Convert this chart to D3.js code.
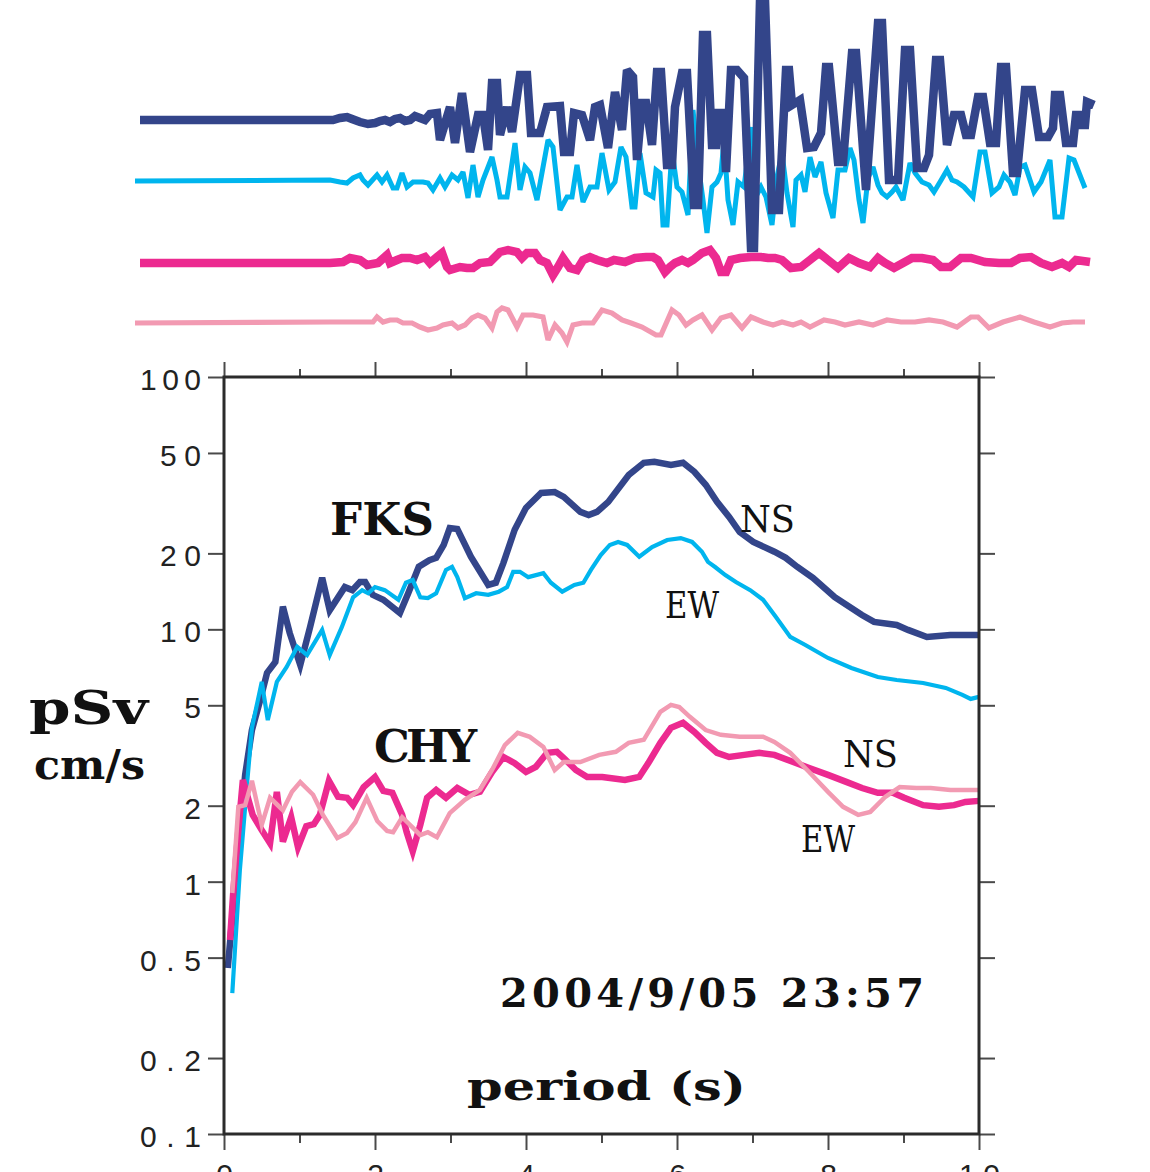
<!DOCTYPE html>
<html>
<head>
<meta charset="utf-8">
<script src="https://d3js.org/d3.v7.min.js"></script>
<style>
body { margin: 0; background: #fff; }
</style>
</head>
<body>
<svg id="mainsvg" width="1150" height="1172"></svg>
<script>
// --- waveforms, [time (s), amplitude] ---
var fksNsWave = [[0.5,0],[19.8,0],[20.5,2],[21.2,3],[21.7,1],[22.5,-2],[23.3,-4],[24.0,-3],[24.5,-1],[25.0,0],[25.5,-2],[26.0,1],[26.5,2],[27.0,-1],[27.5,0],[28.0,4],[28.5,2],[29.0,0],[29.5,6],[30.2,7],[30.5,-20],[31.5,13],[32.0,-23],[32.7,27],[33.5,-32],[34.3,5],[34.8,5],[35.3,-30],[35.7,37],[36.2,37],[36.5,-15],[37.2,13],[37.7,-12],[38.5,45],[39.2,45],[39.6,-13],[40.5,-13],[41.2,13],[42.5,14],[42.9,-32],[43.5,-32],[43.9,7],[44.7,5],[45.5,-20],[46.0,13],[46.5,15],[47.3,-28],[48.0,28],[48.7,-10],[49.2,50],[49.8,43],[50.2,-40],[50.7,17],[51.1,17],[51.7,-25],[52.2,48],[52.6,48],[53.2,-45],[53.7,-45],[54.0,13],[54.7,47],[55.2,47],[55.9,-85],[56.3,-85],[56.8,85],[57.2,85],[57.7,-25],[58.1,-25],[58.3,7],[58.8,7],[59.1,-52],[59.6,50],[60.2,50],[60.9,42],[61.6,-128],[61.9,-128],[62.5,120],[63.0,120],[63.7,-90],[64.4,-90],[65.1,50],[65.4,50],[65.7,15],[66.5,20],[67.2,-28],[67.9,-27],[68.6,-13],[69.1,53],[69.4,53],[70.3,-42],[70.8,-42],[71.7,67],[72.1,67],[73.1,-70],[74.3,97],[74.7,97],[75.4,-60],[76.3,-60],[77.0,70],[77.5,70],[78.2,-48],[78.9,-48],[79.4,-35],[80.1,60],[80.5,60],[81.2,-25],[81.9,5],[82.6,5],[83.1,-15],[83.6,-15],[84.3,23],[84.8,23],[85.5,-23],[86.1,-23],[86.6,53],[87.1,53],[87.8,-53],[88.2,-53],[89.0,30],[89.7,30],[90.4,-17],[91.3,-17],[91.8,-8],[92.0,25],[92.5,25],[93.1,-23],[93.8,-23],[94.1,5],[94.5,5],[94.6,-5],[95.0,-5],[95.2,18],[95.9,15]];

var fksEwWave = [[0,0],[19.5,1],[20.5,-1],[21.2,-2],[21.8,3],[22.5,6],[22.8,1],[23.3,-4],[24.2,6],[24.7,-1],[25.2,6],[25.8,-7],[26.2,-7],[26.7,8],[27.2,-6],[27.8,-1],[28.8,-1],[29.3,-2],[29.8,-9],[30.5,3],[31.0,-6],[31.7,6],[32.3,1],[32.8,9],[33.3,-17],[33.8,16],[34.3,-16],[34.8,1],[35.7,24],[36.2,1],[36.5,-16],[37.2,-16],[38.0,38],[38.5,-9],[39.0,14],[39.5,8],[40.2,-19],[41.3,41],[41.8,34],[42.5,-29],[43.2,-16],[43.7,-16],[44.2,16],[44.8,-21],[45.5,-6],[46.2,-6],[46.7,28],[47.4,-9],[48.0,-1],[48.6,34],[49.1,24],[49.7,-26],[50.0,-26],[50.5,28],[51.1,-12],[51.8,-16],[52.1,11],[52.5,8],[52.8,-44],[53.2,-44],[53.7,31],[54.2,-6],[54.7,-11],[55.3,-34],[55.8,71],[56.3,18],[56.8,-19],[57.2,-52],[57.7,-6],[58.2,-1],[58.6,8],[58.9,41],[59.3,-19],[59.8,-44],[60.3,-1],[60.9,-6],[61.2,18],[61.6,54],[61.9,-19],[62.6,-6],[63.1,-16],[63.7,-44],[64.2,4],[64.7,28],[65.2,-12],[65.8,-46],[66.1,1],[66.6,6],[67.0,-11],[67.5,24],[68.0,4],[68.6,19],[69.1,-12],[69.8,-37],[70.3,11],[71.0,11],[71.5,33],[71.9,21],[72.4,-19],[72.8,-42],[73.3,3],[73.8,14],[74.3,-4],[74.7,-12],[75.2,-16],[75.7,-11],[76.1,-6],[76.8,-19],[77.5,18],[78.0,8],[78.7,-1],[79.4,-4],[79.9,-11],[80.5,-1],[81.2,11],[81.7,1],[82.2,-1],[82.9,-6],[83.8,-16],[84.5,29],[85.0,29],[85.7,-12],[86.4,-6],[86.9,6],[87.5,-1],[88.0,-14],[88.5,14],[89.0,16],[89.9,-11],[90.6,-1],[91.5,21],[92.0,-36],[92.7,-36],[93.4,23],[93.9,21],[95.0,-7]];

var chyNsWave = [[0.5,0],[19.5,0],[20.8,1],[21.5,5],[22.5,3],[23.2,-2],[24.3,0],[25.2,8],[25.5,0],[26.2,3],[26.7,5],[27.5,5],[28.2,3],[29.0,6],[29.5,0],[30.2,6],[30.7,10],[31.2,-4],[31.5,-7],[32.5,-4],[33.2,-5],[33.8,-5],[34.5,0],[35.5,1],[36.5,11],[37.3,13],[38.2,11],[38.7,5],[39.2,10],[40.0,10],[40.5,3],[41.2,0],[41.8,-12],[42.3,-4],[42.8,5],[43.5,-5],[44.2,-7],[44.8,3],[45.5,6],[46.2,3],[47.2,0],[47.9,3],[49.0,1],[50.0,5],[51.1,6],[51.8,6],[52.3,3],[53.0,-9],[53.5,-4],[54.0,0],[54.7,3],[55.3,0],[55.8,3],[56.7,10],[57.5,13],[58.1,5],[58.6,-9],[59.1,-9],[59.6,3],[60.5,5],[61.6,6],[62.6,6],[63.3,5],[64.0,5],[64.7,3],[65.6,-5],[66.6,-4],[67.5,3],[68.4,10],[69.3,3],[70.3,-5],[71.4,5],[72.4,0],[73.5,-4],[74.3,5],[75.0,0],[75.9,-5],[76.8,0],[77.7,5],[78.7,5],[79.8,3],[80.6,-4],[81.5,-4],[82.6,5],[83.6,5],[85.0,1],[86.4,0],[87.6,0],[88.5,5],[89.6,6],[90.6,0],[91.7,-4],[92.7,0],[93.4,-4],[94.1,3],[95.5,1]];

var chyEwWave = [[0,0],[19.5,1],[20.8,1],[22.8,1],[23.8,1],[24.2,6],[24.8,1],[25.5,3],[26.2,3],[26.8,0],[27.7,0],[28.5,-4],[29.3,-7],[30.2,-5],[30.8,-2],[31.7,0],[32.3,-5],[33.0,-2],[33.7,5],[34.3,8],[35.0,5],[35.7,-5],[36.2,11],[36.7,15],[37.3,13],[38.2,-4],[38.8,8],[39.8,8],[40.8,6],[41.3,-17],[42.0,-2],[42.7,-10],[43.2,-19],[43.8,-2],[44.7,0],[45.8,0],[46.7,13],[47.7,10],[48.7,3],[49.6,0],[50.7,-4],[52.1,-12],[52.6,-12],[53.7,13],[54.4,8],[55.1,-2],[55.8,3],[56.7,8],[57.7,-7],[58.6,5],[59.6,8],[60.7,-5],[61.6,6],[62.8,1],[63.8,-2],[64.7,1],[65.8,-2],[66.6,1],[67.5,-4],[68.9,3],[70.0,1],[71.0,-2],[72.4,1],[73.8,-2],[75.2,3],[76.6,1],[78.0,1],[79.4,3],[80.8,1],[82.2,-4],[83.6,6],[84.3,6],[85.4,-5],[86.8,1],[88.5,6],[89.9,1],[91.5,-4],[92.7,0],[93.8,1],[95.0,1]];

// --- pSv spectra, [period (s), pSv (cm/s)] ---
var fksNs = [[0.05,0.455],[0.19,1.34],[0.28,2.65],[0.37,3.99],[0.48,5.25],[0.57,6.72],[0.68,7.43],[0.78,12.3],[0.87,9.68],[1.01,7.22],[1.14,10.2],[1.30,16.0],[1.40,11.9],[1.60,14.7],[1.70,14.3],[1.80,15.4],[1.87,15.4],[1.97,13.7],[2.11,13.1],[2.33,11.6],[2.44,13.9],[2.58,17.7],[2.72,18.8],[2.81,19.2],[2.91,21.6],[2.99,25.2],[3.09,25.0],[3.27,19.4],[3.50,15.0],[3.60,15.3],[3.70,18.3],[3.85,24.8],[4.00,30.3],[4.20,34.7],[4.38,35.0],[4.50,33.5],[4.72,29.2],[4.83,28.4],[4.94,29.2],[5.09,32.0],[5.36,40.9],[5.56,45.7],[5.70,46.1],[5.92,44.8],[6.08,45.7],[6.23,42.1],[6.38,37.4],[6.53,32.0],[6.69,27.9],[6.83,24.3],[7.01,22.2],[7.29,20.3],[7.44,19.2],[7.59,17.7],[7.80,16.0],[8.09,13.4],[8.45,11.4],[8.61,10.7],[8.91,10.4],[9.06,9.95],[9.31,9.33],[9.62,9.50],[10.0,9.50]];

var fksEw = [[0.11,0.362],[0.21,1.11],[0.31,2.53],[0.37,4.07],[0.50,6.19],[0.58,4.37],[0.70,6.19],[0.83,7.10],[0.97,8.52],[1.10,7.91],[1.30,9.95],[1.40,7.91],[1.56,10.2],[1.71,13.4],[1.83,14.3],[1.91,13.9],[2.00,14.7],[2.13,14.3],[2.31,13.1],[2.41,15.3],[2.50,15.7],[2.60,13.4],[2.70,13.3],[2.81,13.9],[2.94,17.2],[3.02,17.7],[3.09,16.1],[3.19,13.3],[3.34,13.9],[3.50,13.7],[3.64,14.1],[3.75,14.7],[3.83,16.9],[3.92,16.9],[4.03,16.1],[4.23,16.7],[4.33,15.3],[4.48,14.1],[4.64,15.0],[4.76,15.3],[4.86,17.2],[4.99,19.7],[5.11,21.6],[5.22,22.2],[5.34,21.6],[5.50,19.4],[5.67,21.2],[5.87,22.6],[6.05,23.0],[6.20,22.2],[6.33,20.3],[6.41,18.5],[6.50,17.7],[6.64,16.4],[6.78,15.4],[6.97,14.3],[7.14,13.1],[7.31,11.2],[7.50,9.33],[7.70,8.67],[8.00,7.70],[8.31,7.03],[8.66,6.47],[8.91,6.30],[9.26,6.13],[9.56,5.86],[9.78,5.50],[9.89,5.30],[10.0,5.40]];

var chyNs = [[0.08,0.587],[0.12,0.886],[0.19,1.60],[0.25,2.53],[0.38,1.84],[0.50,1.60],[0.61,1.42],[0.70,2.27],[0.78,1.44],[0.89,1.80],[0.98,1.37],[1.09,1.66],[1.19,1.69],[1.27,1.84],[1.39,2.51],[1.51,2.17],[1.63,2.15],[1.71,2.01],[1.85,2.37],[2.00,2.60],[2.11,2.29],[2.23,2.25],[2.36,1.84],[2.42,1.57],[2.50,1.32],[2.60,1.68],[2.69,2.15],[2.81,2.31],[2.94,2.15],[3.09,2.35],[3.25,2.21],[3.39,2.27],[3.55,2.72],[3.70,3.12],[3.85,2.95],[4.00,2.72],[4.13,2.85],[4.28,3.24],[4.41,3.27],[4.50,3.09],[4.66,2.77],[4.81,2.60],[5.01,2.60],[5.31,2.53],[5.50,2.60],[5.62,2.95],[5.78,3.55],[5.92,4.07],[6.08,4.26],[6.23,3.92],[6.38,3.55],[6.53,3.24],[6.69,3.12],[6.89,3.18],[7.09,3.24],[7.29,3.18],[7.54,2.98],[7.75,2.82],[8.00,2.65],[8.25,2.48],[8.45,2.35],[8.66,2.25],[8.86,2.25],[9.01,2.15],[9.26,2.01],[9.47,1.98],[9.67,2.01],[9.82,2.07],[10.0,2.09]];

var chyEw = [[0.11,0.902],[0.19,1.98],[0.28,2.01],[0.37,2.51],[0.50,1.68],[0.61,2.15],[0.78,1.92],[0.90,2.27],[1.01,2.48],[1.18,2.21],[1.31,1.84],[1.50,1.49],[1.63,1.56],[1.74,1.72],[1.89,2.15],[2.03,1.74],[2.16,1.59],[2.24,1.57],[2.36,1.80],[2.49,1.65],[2.60,1.53],[2.70,1.57],[2.82,1.50],[2.99,1.87],[3.19,2.11],[3.39,2.31],[3.55,2.77],[3.72,3.48],[3.89,3.89],[4.05,3.75],[4.23,3.42],[4.38,2.77],[4.50,2.98],[4.72,2.98],[4.97,3.18],[5.19,3.27],[5.36,3.55],[5.56,3.65],[5.78,4.71],[5.92,5.02],[6.03,4.92],[6.17,4.50],[6.38,3.99],[6.58,3.82],[6.83,3.75],[7.14,3.75],[7.29,3.58],[7.50,3.24],[7.75,2.72],[8.00,2.27],[8.20,1.98],[8.40,1.84],[8.56,1.89],[8.76,2.17],[8.95,2.37],[9.17,2.35],[9.36,2.35],[9.62,2.31],[10.0,2.31]];

// --- axis ticks ---
var yTicks = [0.1, 0.2, 0.5, 1, 2, 5, 10, 20, 50, 100];
var yTickLabels = ['0.1', '0.2', '0.5', '1', '2', '5', '10', '20', '50', '100'];
var xMajor = [0, 2, 4, 6, 8, 10];
var xMinor = [1, 3, 5, 7, 9];

var NAVY = '#33458a', CYAN = '#00b5ee', MAGENTA = '#ec2a90', PINK = '#f29ab2';
var SERIF = '"DejaVu Serif", "Liberation Serif", serif';

var svg = d3.select('#mainsvg');

// ---------- seismograms on top ----------
var tScale = d3.scaleLinear().domain([0, 96]).range([135, 1095]);
var rows = [
	{data: fksEwWave, base: 181, color: CYAN, w: 5},
	{data: fksNsWave, base: 120, color: NAVY, w: 8.5},
	{data: chyEwWave, base: 323, color: PINK, w: 5.2},
	{data: chyNsWave, base: 263, color: MAGENTA, w: 8.5}
];
var waveLayer = svg.append('g').attr('id', 'waves');
rows.forEach(function(r) {
	var a = d3.scaleLinear().domain([-130, 130]).range([r.base + 130, r.base - 130]);
	var line = d3.line()
		.x(function(d) {return tScale(d[0]);})
		.y(function(d) {return a(d[1]);});
	waveLayer.append('path')
		.datum(r.data)
		.attr('d', line)
		.attr('fill', 'none')
		.attr('stroke', r.color)
		.attr('stroke-width', r.w)
		.attr('stroke-linejoin', 'miter')
		.attr('stroke-miterlimit', 2.5);
});

// ---------- pSv plot ----------
var L = 224, R = 979, T = 377, B = 1134;
var x = d3.scaleLinear().domain([0, 10]).range([L, R]);
var y = d3.scaleLog().domain([0.1, 100]).range([B, T]);

var plot = svg.append('g').attr('id', 'plot');

function styleAxis(g) {
	g.select('.domain').remove();
	g.selectAll('line').attr('stroke', '#4a4a4a').attr('stroke-width', 2);
	g.selectAll('text')
		.attr('font-family', '"Liberation Sans", Arial, sans-serif')
		.attr('font-size', 30)
		.attr('fill', '#222');
}

var fmt = function(d) {return yTickLabels[yTicks.indexOf(d)];};

var yLeft = plot.append('g').attr('transform', 'translate(' + L + ',0)')
	.call(d3.axisLeft(y).tickValues(yTicks).tickFormat(fmt).tickSizeOuter(0).tickSize(16).tickPadding(7));
styleAxis(yLeft);
yLeft.selectAll('text').attr('dy', '0.42em')
	.each(function() {
		var t = d3.select(this), s = t.text();
		if (s.length == 3) t.attr('textLength', 61).attr('lengthAdjust', 'spacing');
		else if (s.length == 2) t.attr('textLength', 41).attr('lengthAdjust', 'spacing');
	});

var yRight = plot.append('g').attr('transform', 'translate(' + R + ',0)')
	.call(d3.axisRight(y).tickValues(yTicks).tickFormat('').tickSizeOuter(0).tickSize(16));
styleAxis(yRight);

var xBottom = plot.append('g').attr('transform', 'translate(0,' + B + ')')
	.call(d3.axisBottom(x).tickValues(xMajor).tickFormat(d3.format('d')).tickSizeOuter(0).tickSize(16).tickPadding(14));
styleAxis(xBottom);
xBottom.selectAll('text').each(function() {
	var t = d3.select(this);
	if (t.text().length == 2) t.attr('textLength', 41).attr('lengthAdjust', 'spacing');
});
var xBottomMinor = plot.append('g').attr('transform', 'translate(0,' + B + ')')
	.call(d3.axisBottom(x).tickValues(xMinor).tickFormat('').tickSizeOuter(0).tickSize(9));
styleAxis(xBottomMinor);

var xTop = plot.append('g').attr('transform', 'translate(0,' + T + ')')
	.call(d3.axisTop(x).tickValues(xMajor).tickFormat('').tickSizeOuter(0).tickSize(15));
styleAxis(xTop);
var xTopMinor = plot.append('g').attr('transform', 'translate(0,' + T + ')')
	.call(d3.axisTop(x).tickValues(xMinor).tickFormat('').tickSizeOuter(0).tickSize(8));
styleAxis(xTopMinor);

// curves
var spec = d3.line()
	.x(function(d) {return x(d[0]);})
	.y(function(d) {return y(d[1]);});
var curves = [
	{data: fksNs, color: NAVY, w: 6.5},
	{data: fksEw, color: CYAN, w: 4.2},
	{data: chyNs, color: MAGENTA, w: 6.5},
	{data: chyEw, color: PINK, w: 4.5}
];
plot.selectAll('.curve')
	.data(curves)
	.enter()
	.append('path')
	.attr('class', 'curve')
	.attr('d', function(d) {return spec(d.data);})
	.attr('fill', 'none')
	.attr('stroke', function(d) {return d.color;})
	.attr('stroke-width', function(d) {return d.w;})
	.attr('stroke-linejoin', 'miter')
	.attr('stroke-miterlimit', 4);

// frame
plot.append('rect')
	.attr('x', L).attr('y', T)
	.attr('width', R - L).attr('height', B - T)
	.attr('fill', 'none')
	.attr('stroke', '#2b2b2b')
	.attr('stroke-width', 3);

// labels (courier-like: serif text fitted to the monospaced widths)
var labels = [
	{t: 'FKS', x: 330, y: 535, s: 45, len: 104, b: true, fit: 'spacing'},
	{t: 'CHY', x: 374, y: 762, s: 45, len: 103, b: true, fit: 'spacing'},
	{t: 'NS', x: 740, y: 532, s: 37, len: 55, b: false, fit: 'spacingAndGlyphs'},
	{t: 'EW', x: 665, y: 618, s: 37, len: 54, b: false, fit: 'spacingAndGlyphs'},
	{t: 'NS', x: 843, y: 767, s: 37, len: 55, b: false, fit: 'spacingAndGlyphs'},
	{t: 'EW', x: 801, y: 852, s: 37, len: 54, b: false, fit: 'spacingAndGlyphs'},
	{t: '2004/9/05 23:57', x: 500, y: 1007, s: 40, len: 424, b: true, fit: 'spacing'},
	{t: 'period (s)', x: 467, y: 1100, s: 40, len: 279, b: true, fit: 'spacingAndGlyphs'},
	{t: 'pSv', x: 29, y: 724, s: 47, len: 119, b: true, fit: 'spacingAndGlyphs'},
	{t: 'cm/s', x: 34, y: 779, s: 41, len: 111, b: true, fit: 'spacingAndGlyphs'}
];
svg.selectAll('.lbl')
	.data(labels)
	.enter()
	.append('text')
	.attr('class', 'lbl')
	.attr('x', function(d) {return d.x;})
	.attr('y', function(d) {return d.y;})
	.attr('font-family', SERIF)
	.attr('font-size', function(d) {return d.s;})
	.attr('font-weight', function(d) {return d.b ? 'bold' : 'normal';})
	.attr('textLength', function(d) {return d.len;})
	.attr('lengthAdjust', function(d) {return d.fit;})
	.attr('fill', '#111')
	.attr('xml:space', 'preserve')
	.style('white-space', 'pre')
	.text(function(d) {return d.t;});
</script>
</body>
</html>
